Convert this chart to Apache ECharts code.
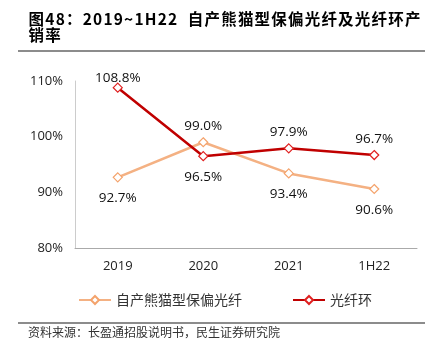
<!DOCTYPE html>
<html><head><meta charset="utf-8">
<script src="https://cdn.jsdelivr.net/npm/echarts@6/dist/echarts.min.js"></script>
<style>html,body{margin:0;padding:0;background:#fff}#c{width:432px;height:353px}</style>
</head><body><div id="c"></div>
<script>
var categories = ['2019', '2020', '2021', '1H22'];
var pandaFiber = [92.7, 99.0, 93.4, 90.6];
var fiberRing = [108.8, 96.5, 97.9, 96.7];
var pandaLabelPos = ['bottom', 'top', 'bottom', 'bottom'];
var ringLabelPos = ['top', 'bottom', 'top', 'top'];
var yTicks = [80, 90, 100, 110];
var titleLines = ['图48：2019~1H22  自产熊猫型保偏光纤及光纤环产', '销率'];

var chart = echarts.init(document.getElementById('c'));
var labelStyle = {fontSize: 13.5, color: '#111', fontFamily: 'Open Sans'};
function mk(vals, pos) {
  return vals.map(function (v, i) {
    var top = pos[i] === 'top';
    var nearTop = v > 105;
    return {value: v, label: {show: true, position: pos[i], distance: top ? (nearTop ? 0 : 4) : 9, offset: nearTop ? [0, 3] : [0, 0], formatter: function (p) { return p.value.toFixed(1) + '%'; }}};
  });
}
function spaced(s) { return s.split('').map(function (ch) { return '{t|' + (ch === ' ' ? '\u00a0' : ch) + '}'; }).join(''); }
var titleRich = {t: {fontSize: 15.5, fontWeight: 'bold', color: '#333', fontFamily: 'Noto Sans CJK SC', padding: [0, 0.6, 0, 0.6]}};
chart.setOption({
  animation: false,
  graphic: [
    {type: 'text', x: 28, y: 11, style: {text: spaced(titleLines[0]), verticalAlign: 'top', rich: titleRich}},
    {type: 'text', x: 28, y: 27, style: {text: spaced(titleLines[1]), verticalAlign: 'top', rich: titleRich}},
    {type: 'line', shape: {x1: 18, y1: 51, x2: 425, y2: 51}, style: {stroke: '#666', lineWidth: 1.5}},
    {type: 'line', shape: {x1: 18, y1: 323, x2: 425, y2: 323}, style: {stroke: '#666', lineWidth: 1.5}},
    {type: 'text', left: 28, top: 326, style: {text: '资料来源：长盈通招股说明书，民生证券研究院', fontSize: 12, fill: '#333', fontFamily: 'Noto Sans CJK SC'}}
  ],
  grid: {left: 75, right: 15, top: 81, bottom: 105},
  legend: {
    top: 288, left: 73, itemWidth: 32, itemHeight: 10, itemGap: 50,
    textStyle: {fontSize: 14, color: '#333', fontFamily: 'Noto Sans CJK SC', rich: {c: {fontSize: 14, color: '#333', padding: [0, 0, 0, 0], fontFamily: 'Noto Sans CJK SC'}}},
    formatter: function (n) { return n.split('').map(function (ch) { return '{c|' + ch + '}'; }).join(''); },
    data: ['自产熊猫型保偏光纤', '光纤环']
  },
  xAxis: {
    type: 'category', data: categories, boundaryGap: true,
    axisLine: {lineStyle: {color: '#aaa'}}, axisTick: {show: false},
    axisLabel: {fontSize: 13, color: '#222', margin: 12, fontFamily: 'Open Sans'}
  },
  yAxis: {
    type: 'value', min: yTicks[0], max: yTicks[yTicks.length - 1], interval: 10,
    splitLine: {show: false},
    axisLine: {show: true, lineStyle: {color: '#ccc'}}, axisTick: {show: false},
    axisLabel: {fontSize: 13, color: '#222', margin: 12, fontFamily: 'Open Sans', formatter: '{value}%'}
  },
  series: [
    {
      name: '自产熊猫型保偏光纤', type: 'line', data: mk(pandaFiber, pandaLabelPos),
      symbol: 'diamond', symbolSize: 9,
      lineStyle: {color: '#F4B183', width: 2.5},
      itemStyle: {color: '#fff', borderColor: '#F4A36C', borderWidth: 1.2},
      label: labelStyle
    },
    {
      name: '光纤环', type: 'line', data: mk(fiberRing, ringLabelPos),
      symbol: 'diamond', symbolSize: 9,
      lineStyle: {color: '#C00000', width: 2.5},
      itemStyle: {color: '#fff', borderColor: '#E02020', borderWidth: 1.2},
      label: labelStyle
    }
  ]
});
</script></body></html>
